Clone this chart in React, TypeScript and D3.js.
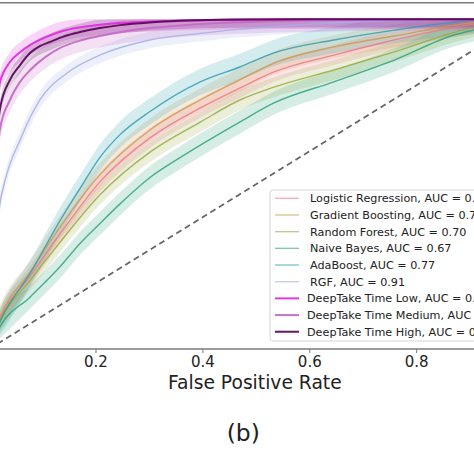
import React from "react";
import * as d3 from "d3";

// ---------- data ----------
const seriesNames = [
  "Logistic Regression",
  "Gradient Boosting",
  "Random Forest",
  "Naive Bayes",
  "AdaBoost",
  "RGF",
  "DeepTake Time Low",
  "DeepTake Time Medium",
  "DeepTake Time High",
];
const aucLabels = ["0.72", "0.73", "0.70", "0.67", "0.77", "0.91", "0.96", "0.95", "0.96"];

const fprClassic = [0, 0.02, 0.077, 0.133, 0.207, 0.301, 0.395, 0.469, 0.533, 0.645, 0.758, 0.907, 1];
const tprLR = [0, 0.088, 0.221, 0.35, 0.506, 0.64, 0.731, 0.791, 0.84, 0.891, 0.937, 0.985, 1];
const tprGB = [0, 0.094, 0.233, 0.37, 0.528, 0.664, 0.755, 0.816, 0.867, 0.916, 0.949, 0.99, 1];
const tprRF = [0, 0.082, 0.209, 0.324, 0.467, 0.597, 0.688, 0.755, 0.794, 0.846, 0.901, 0.976, 1];

const fprNB = [0, 0.02, 0.077, 0.133, 0.17, 0.207, 0.245, 0.301, 0.357, 0.469, 0.533, 0.645, 0.758, 0.87, 0.907, 1];
const tprNB = [0, 0.067, 0.158, 0.25, 0.32, 0.38, 0.44, 0.52, 0.58, 0.688, 0.746, 0.81, 0.876, 0.952, 0.967, 1];

const fprAda = [0, 0.02, 0.077, 0.133, 0.179, 0.207, 0.245, 0.301, 0.395, 0.469, 0.533, 0.645, 0.758, 0.87, 0.907, 1];
const tprAda = [0, 0.082, 0.23, 0.39, 0.51, 0.58, 0.65, 0.72, 0.81, 0.855, 0.898, 0.937, 0.967, 0.991, 0.998, 1];

const fprRGF = [0, 0.02, 0.03, 0.058, 0.095, 0.146, 0.207, 0.301, 0.395, 0.469, 0.533, 0.645, 0.758, 0.907, 1];
const tprRGF = [0, 0.437, 0.512, 0.634, 0.755, 0.837, 0.891, 0.937, 0.957, 0.97, 0.978, 0.989, 0.996, 0.999, 1];

const fprLow = [0, 0.02, 0.039, 0.058, 0.077, 0.105, 0.133, 0.17, 0.207, 0.25, 0.301, 0.39, 0.47, 0.6, 0.8, 1];
const tprLow = [0, 0.807, 0.87, 0.9, 0.922, 0.945, 0.962, 0.975, 0.983, 0.989, 0.993, 0.997, 0.999, 1, 1, 1];

const fprMed = [0, 0.02, 0.039, 0.058, 0.077, 0.105, 0.133, 0.17, 0.207, 0.25, 0.301, 0.39, 0.469, 0.6, 0.8, 1];
const tprMed = [0, 0.664, 0.755, 0.81, 0.846, 0.885, 0.913, 0.935, 0.949, 0.962, 0.973, 0.985, 0.991, 0.997, 1, 1];

const fprHigh = [0, 0.02, 0.039, 0.058, 0.077, 0.095, 0.114, 0.14, 0.17, 0.207, 0.245, 0.3, 0.357, 0.43, 0.507, 0.65, 0.8, 1];
const tprHigh = [0, 0.725, 0.816, 0.861, 0.898, 0.918, 0.931, 0.948, 0.961, 0.973, 0.982, 0.99, 0.995, 0.998, 0.999, 1, 1, 1];

const spreads = [0.03, 0.035, 0.03, 0.035, 0.04, 0.025, 0.03, 0.035, 0.025];
const colors = ["#f0788a", "#cc9a4c", "#9aaa40", "#2fa37a", "#2f9fae", "#a3aee8", "#e22ce2", "#c56ac5", "#5c0a5c"];

// visible tick labels (0.0 and 1.0 fall outside the cropped view)
const xTicks = [0.2, 0.4, 0.6, 0.8];

// ---------- chart ----------
const W = 474;
const H = 474;

export default function App() {
  const x = d3.scaleLinear().domain([0, 1]).range([-10.9, 523.6]);
  const y = d3.scaleLinear().domain([0, 1.05]).range([349, 2.7]);

  const fprs = [fprClassic, fprClassic, fprClassic, fprNB, fprAda, fprRGF, fprLow, fprMed, fprHigh];
  const tprs = [tprLR, tprGB, tprRF, tprNB, tprAda, tprRGF, tprLow, tprMed, tprHigh];

  const series = seriesNames.map((name, i) => ({
    name,
    color: colors[i],
    spread: spreads[i],
    pts: fprs[i].map((f, j) => ({ f, t: tprs[i][j] })),
    deep: i >= 6,
  }));

  const line = d3
    .line<{ f: number; t: number }>()
    .x((d) => x(d.f))
    .y((d) => y(d.t))
    .curve(d3.curveMonotoneX);

  const areaFor = (s: number) =>
    d3
      .area<{ f: number; t: number }>()
      .x((d) => x(d.f))
      .y0((d) => y(Math.max(0, d.t - s)))
      .y1((d) => y(Math.min(1, d.t + s)))
      .curve(d3.curveMonotoneX);

  const x0 = x(0);
  const x1 = x(1);
  const yTop = y(1.05);
  const yBot = y(0);

  const legX = 270;
  const legY = 190;
  const rowH = 16.68;
  const row0 = 198.3;

  return (
    <div style={{ position: "absolute", left: 0, top: 0 }}>
      <svg width={W} height={H} style={{ display: "block", background: "#fff" }} fontFamily="DejaVu Sans, sans-serif">
        <defs>
          <clipPath id="plotclip">
            <rect x={x0} y={yTop} width={x1 - x0} height={yBot - yTop} />
          </clipPath>
        </defs>
        <rect x={0} y={0} width={W} height={H} fill="#fff" />
        <g clipPath="url(#plotclip)">
          {series.map((s) => (
            <path key={"band-" + s.name} d={areaFor(s.spread)(s.pts) || ""} fill={s.color} fillOpacity={0.2} stroke="none" />
          ))}
          {series.map((s) => (
            <path
              key={"line-" + s.name}
              d={line(s.pts) || ""}
              fill="none"
              stroke={s.color}
              strokeWidth={s.deep ? 2 : 1.4}
              strokeOpacity={s.deep ? 0.95 : 0.85}
            />
          ))}
          <line
            x1={x(0)}
            y1={y(0)}
            x2={x(1)}
            y2={y(1)}
            stroke="#666"
            strokeWidth={1.8}
            strokeDasharray="6,4"
          />
        </g>
        {/* spines */}
        <line x1={0} x2={W} y1={yTop} y2={yTop} stroke="#7a7a7a" strokeWidth={1.6} />
        <line x1={0} x2={W} y1={yBot} y2={yBot} stroke="#7a7a7a" strokeWidth={1.6} />
        {/* ticks */}
        {xTicks.map((t) => (
          <g key={"tick-" + t}>
            <line x1={x(t)} x2={x(t)} y1={yBot} y2={yBot + 4} stroke="#7a7a7a" strokeWidth={1} />
            <text x={x(t)} y={367.3} textAnchor="middle" fontSize={15} fill="#222">
              {t.toFixed(1)}
            </text>
          </g>
        ))}
        <text x={x(0.5) - 1.5} y={388.5} textAnchor="middle" fontSize={18.7} fill="#222">
          False Positive Rate
        </text>
        <text x={243.3} y={441} textAnchor="middle" fontSize={23.5} fill="#222">
          (b)
        </text>
        {/* legend */}
        <rect x={legX} y={legY} width={230} height={151} rx={3} fill="#fff" fillOpacity={0.85} stroke="#d4d4d4" strokeWidth={1} />
        {series.map((s, i) => {
          const cy = row0 + i * rowH;
          return (
            <g key={"leg-" + s.name}>
              <line x1={275} x2={299} y1={cy} y2={cy} stroke={s.color} strokeWidth={s.deep ? 2 : 1.4} strokeOpacity={s.deep ? 0.95 : 0.6} />
              <text x={s.deep ? 307 : 310} y={cy + 4} fontSize={11.2} fill="#222">
                {s.name + ", AUC = " + aucLabels[i]}
              </text>
            </g>
          );
        })}
      </svg>
    </div>
  );
}
